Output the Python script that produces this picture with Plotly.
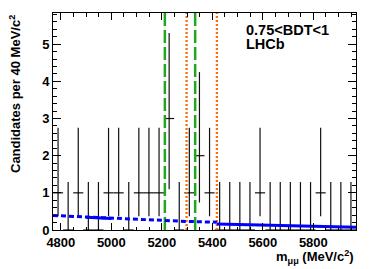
import plotly.graph_objects as go

# ---- data ----
mass_lo, mass_hi = 4769, 5969          # MeV/c^2, 30 bins of 40 MeV
bin_width = 40
bin_centers = [4789 + 40 * i for i in range(30)]
counts = [1, 0, 1, 0, 0, 1, 1, 0, 1, 1,
          1, 3, 0, 1, 2, 1, 0, 0, 0, 0,
          1, 0, 0, 0, 0, 0, 1, 0, 0, 0]
# 68% Feldman-Cousins intervals for n = 0,1,2,3
fc_lower = [0.0, 0.37, 0.74, 1.10]
fc_upper = [1.29, 2.75, 4.25, 5.30]

bd_window = [5212, 5332]   # green dashed
bs_window = [5298, 5418]   # orange dotted

# background curve
bkg_dash_x = [4769, 4900, 5000, 5100, 5200, 5300, 5418]
bkg_dash_y = [0.39, 0.35, 0.31, 0.28, 0.26, 0.23, 0.21]
bkg_solid1_x = [4900, 5000]
bkg_solid1_y = [0.34, 0.31]
bkg_solid2_x = [5418, 5500, 5600, 5700, 5800, 5900, 5969]
bkg_solid2_y = [0.16, 0.15, 0.14, 0.12, 0.10, 0.085, 0.075]

y_max = 5.84

FONT = "Liberation Sans, Arial, Helvetica, sans-serif"

err_plus = [fc_upper[n] - n for n in counts]
err_minus = [n - fc_lower[n] for n in counts]

fig = go.Figure()

fig.add_trace(go.Scatter(
    x=bin_centers, y=counts, mode="markers",
    marker=dict(size=1, color="black"),
    error_y=dict(type="data", symmetric=False, array=err_plus, arrayminus=err_minus,
                 color="#111111", thickness=1.2, width=0),
    error_x=dict(type="constant", value=bin_width / 2, color="#111111", thickness=1.2, width=0),
    showlegend=False, hoverinfo="skip"))

for xv in bd_window:
    fig.add_trace(go.Scatter(x=[xv, xv], y=[0, y_max], mode="lines",
                             line=dict(color="#1fa81f", width=2.5, dash="13px,4px"),
                             showlegend=False, hoverinfo="skip"))
for xv in bs_window:
    fig.add_trace(go.Scatter(x=[xv, xv], y=[0, y_max], mode="lines",
                             line=dict(color="#ff6a10", width=2.3, dash="2px,2px"),
                             showlegend=False, hoverinfo="skip"))

fig.add_trace(go.Scatter(x=bkg_dash_x, y=bkg_dash_y, mode="lines",
                         line=dict(color="#0000ff", width=3, dash="5px,3px"),
                         showlegend=False, hoverinfo="skip"))
fig.add_trace(go.Scatter(x=bkg_solid1_x, y=bkg_solid1_y, mode="lines",
                         line=dict(color="#0000ff", width=3),
                         showlegend=False, hoverinfo="skip"))
fig.add_trace(go.Scatter(x=bkg_solid2_x, y=bkg_solid2_y, mode="lines",
                         line=dict(color="#0000ff", width=3),
                         showlegend=False, hoverinfo="skip"))

axis_common = dict(showline=True, linecolor="black", linewidth=1, mirror="ticks",
                   ticks="inside", tickcolor="black", tickwidth=1, showgrid=False,
                   zeroline=False,
                   tickfont=dict(family=FONT, size=13, color="black", weight="bold"))

fig.update_xaxes(range=[mass_lo, mass_hi], tick0=4800, dtick=200, ticklen=7,
                 minor=dict(ticks="inside", dtick=50, tick0=4800, ticklen=3.5,
                            tickcolor="black", showgrid=False),
                 **axis_common)
fig.update_yaxes(range=[0, y_max], tick0=0, dtick=1, ticklen=8,
                 minor=dict(ticks="inside", dtick=0.2, tick0=0, ticklen=4,
                            tickcolor="black", showgrid=False),
                 **axis_common)

fig.add_annotation(text="<b>Candidates per 40 MeV/c<sup>2</sup></b>", textangle=-90,
                   xref="paper", yref="paper", x=0, y=1, xanchor="center", yanchor="top",
                   xshift=-38, showarrow=False,
                   font=dict(family=FONT, size=13, color="black"))
fig.add_annotation(text="<b>m<sub>\u03bc\u03bc</sub> (MeV/c<sup>2</sup>)</b>",
                   xref="paper", yref="paper", x=1, y=0, xanchor="right", yanchor="top",
                   yshift=-16, showarrow=False,
                   font=dict(family=FONT, size=13, color="black"))
fig.add_annotation(text="<b>0.75&lt;BDT&lt;1</b>", xref="paper", yref="paper",
                   x=0.634, y=0.9217, xanchor="left", yanchor="middle", showarrow=False,
                   borderpad=0,
                   font=dict(family=FONT, size=14.5, color="black"))
fig.add_annotation(text="<b>LHCb</b>", xref="paper", yref="paper",
                   x=0.634, y=0.855, xanchor="left", yanchor="middle", showarrow=False,
                   borderpad=0,
                   font=dict(family=FONT, size=14.5, color="black"))

fig.update_layout(width=375, height=269, margin=dict(l=53, r=19, t=13, b=39),
                  paper_bgcolor="white", plot_bgcolor="white")

fig.write_html("out.html", config={"displayModeBar": False},
               post_script="document.body.style.margin='0';document.body.style.padding='0';")
